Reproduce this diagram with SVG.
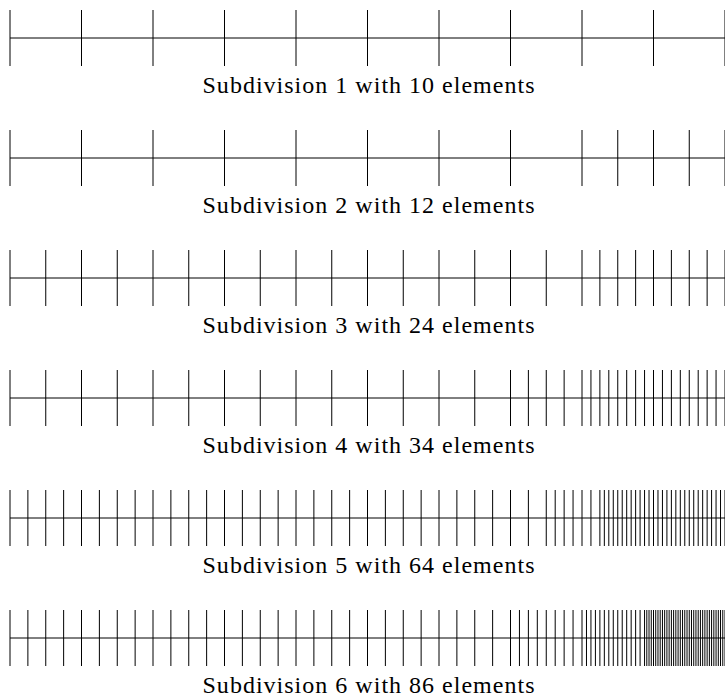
<svg xmlns="http://www.w3.org/2000/svg" width="725" height="695" viewBox="0 0 725 695">
<style>
.axis{stroke:#000;stroke-width:1;fill:none}
.tick{stroke:#000;stroke-width:1;fill:none}
.lbl{font-family:"Liberation Serif","DejaVu Serif",serif;font-size:24px;fill:#000;text-anchor:middle}
</style>
<rect width="725" height="695" fill="#fff"/>
<g id="row1">
<path class="axis" d="M10 38H725"/>
<path class="tick" d="M10 10v56M81.5 10v56M153 10v56M224.5 10v56M296 10v56M367.5 10v56M439 10v56M510.5 10v56M582 10v56M653.5 10v56M725 10v56"/>
<text class="lbl" x="368.5" y="92.5" textLength="332" lengthAdjust="spacing">Subdivision 1 with 10 elements</text>
</g>
<g id="row2" transform="translate(0,120)">
<path class="axis" d="M10 38H725"/>
<path class="tick" d="M10 10v56M81.5 10v56M153 10v56M224.5 10v56M296 10v56M367.5 10v56M439 10v56M510.5 10v56M582 10v56M617.75 10v56M653.5 10v56M689.25 10v56M725 10v56"/>
<text class="lbl" x="368.5" y="92.5" textLength="332" lengthAdjust="spacing">Subdivision 2 with 12 elements</text>
</g>
<g id="row3" transform="translate(0,240)">
<path class="axis" d="M10 38H725"/>
<path class="tick" d="M10 10v56M45.75 10v56M81.5 10v56M117.25 10v56M153 10v56M188.75 10v56M224.5 10v56M260.25 10v56M296 10v56M331.75 10v56M367.5 10v56M403.25 10v56M439 10v56M474.75 10v56M510.5 10v56M546.25 10v56M582 10v56M599.88 10v56M617.75 10v56M635.63 10v56M653.5 10v56M671.38 10v56M689.25 10v56M707.13 10v56M725 10v56"/>
<text class="lbl" x="368.5" y="92.5" textLength="332" lengthAdjust="spacing">Subdivision 3 with 24 elements</text>
</g>
<g id="row4" transform="translate(0,360)">
<path class="axis" d="M10 38H725"/>
<path class="tick" d="M10 10v56M45.75 10v56M81.5 10v56M117.25 10v56M153 10v56M188.75 10v56M224.5 10v56M260.25 10v56M296 10v56M331.75 10v56M367.5 10v56M403.25 10v56M439 10v56M474.75 10v56M510.5 10v56M528.38 10v56M546.25 10v56M564.13 10v56M582 10v56M590.94 10v56M599.88 10v56M608.81 10v56M617.75 10v56M626.69 10v56M635.63 10v56M644.56 10v56M653.5 10v56M662.44 10v56M671.38 10v56M680.31 10v56M689.25 10v56M698.19 10v56M707.13 10v56M716.06 10v56M725 10v56"/>
<text class="lbl" x="368.5" y="92.5" textLength="332" lengthAdjust="spacing">Subdivision 4 with 34 elements</text>
</g>
<g id="row5" transform="translate(0,480)">
<path class="axis" d="M10 38H725"/>
<path class="tick" d="M10 10v56M27.88 10v56M45.75 10v56M63.63 10v56M81.5 10v56M99.38 10v56M117.25 10v56M135.13 10v56M153 10v56M170.88 10v56M188.75 10v56M206.63 10v56M224.5 10v56M242.38 10v56M260.25 10v56M278.13 10v56M296 10v56M313.88 10v56M331.75 10v56M349.63 10v56M367.5 10v56M385.38 10v56M403.25 10v56M421.13 10v56M439 10v56M456.88 10v56M474.75 10v56M492.63 10v56M510.5 10v56M528.38 10v56M546.25 10v56M555.19 10v56M564.13 10v56M573.06 10v56M582 10v56M590.94 10v56M599.88 10v56M604.34 10v56M608.81 10v56M613.28 10v56M617.75 10v56M622.22 10v56M626.69 10v56M631.16 10v56M635.63 10v56M640.09 10v56M644.56 10v56M649.03 10v56M653.5 10v56M657.97 10v56M662.44 10v56M666.91 10v56M671.38 10v56M675.84 10v56M680.31 10v56M684.78 10v56M689.25 10v56M693.72 10v56M698.19 10v56M702.66 10v56M707.13 10v56M711.59 10v56M716.06 10v56M720.53 10v56M725 10v56"/>
<text class="lbl" x="368.5" y="92.5" textLength="332" lengthAdjust="spacing">Subdivision 5 with 64 elements</text>
</g>
<g id="row6" transform="translate(0,600)">
<path class="axis" d="M10 38H725"/>
<path class="tick" d="M10 10v56M27.88 10v56M45.75 10v56M63.63 10v56M81.5 10v56M99.38 10v56M117.25 10v56M135.13 10v56M153 10v56M170.88 10v56M188.75 10v56M206.63 10v56M224.5 10v56M242.38 10v56M260.25 10v56M278.13 10v56M296 10v56M313.88 10v56M331.75 10v56M349.63 10v56M367.5 10v56M385.38 10v56M403.25 10v56M421.13 10v56M439 10v56M456.88 10v56M474.75 10v56M492.63 10v56M510.5 10v56M519.44 10v56M528.38 10v56M537.31 10v56M546.25 10v56M555.19 10v56M564.13 10v56M573.06 10v56M582 10v56M586.47 10v56M590.94 10v56M595.41 10v56M599.88 10v56M604.34 10v56M608.81 10v56M613.28 10v56M617.75 10v56M622.22 10v56M626.69 10v56M631.16 10v56M635.63 10v56M640.09 10v56M644.56 10v56M646.8 10v56M649.03 10v56M651.27 10v56M653.5 10v56M655.73 10v56M657.97 10v56M660.2 10v56M662.44 10v56M664.67 10v56M666.91 10v56M669.14 10v56M671.38 10v56M673.61 10v56M675.84 10v56M678.08 10v56M680.31 10v56M682.55 10v56M684.78 10v56M687.02 10v56M689.25 10v56M691.48 10v56M693.72 10v56M695.95 10v56M698.19 10v56M700.42 10v56M702.66 10v56M704.89 10v56M707.13 10v56M709.36 10v56M711.59 10v56M713.83 10v56M716.06 10v56M718.3 10v56M720.53 10v56M722.77 10v56M725 10v56"/>
<text class="lbl" x="368.5" y="92.5" textLength="332" lengthAdjust="spacing">Subdivision 6 with 86 elements</text>
</g>
</svg>
